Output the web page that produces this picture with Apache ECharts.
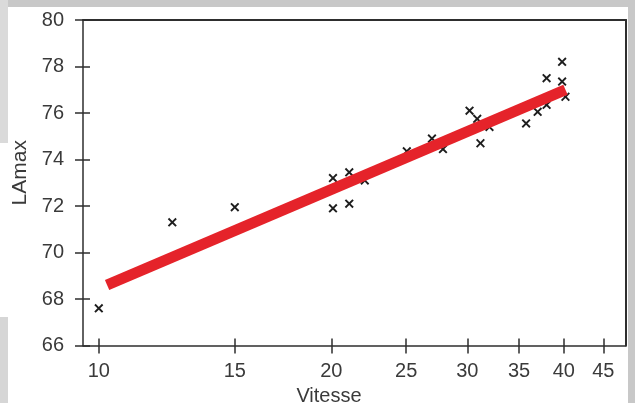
<!DOCTYPE html>
<html>
<head>
<meta charset="utf-8">
<script src="https://cdn.jsdelivr.net/npm/echarts@6/dist/echarts.min.js"></script>
<style>
html,body{margin:0;padding:0;background:#c8c8c8;}
#chart{width:635px;height:403px;}
</style>
</head>
<body>
<div id="chart"></div>
<script>
// Data
var vitesse = [10, 12.45, 15, 20.1, 21.1, 20.1, 21.1, 22.1, 25.05, 27, 27.9, 30.2, 30.9, 32.05, 31.2, 35.75, 37, 38, 38, 39.8, 39.8, 40.2];
var lamax   = [67.6, 71.3, 71.95, 73.2, 73.45, 71.9, 72.1, 73.1, 74.35, 74.9, 74.45, 76.1, 75.75, 75.4, 74.7, 75.55, 76.05, 76.35, 77.5, 78.2, 77.35, 76.7];
var fitVitesse = [10.25, 40.2];
var fitLamax   = [68.6, 77.0];
var xTicks = [10, 15, 20, 25, 30, 35, 40, 45];
var yTicks = [66, 68, 70, 72, 74, 76, 78, 80];

var points = vitesse.map(function (v, i) { return [v, lamax[i]]; });
var fitLine = fitVitesse.map(function (v, i) { return [v, fitLamax[i]]; });

var FONT = '"Liberation Sans", Arial, sans-serif';
var TXT = '#3a3a3a';
var AX = '#2e2e2e';
var X_MIN = 9.54, X_MAX = 48.15;

function frameX(pos) {
  return {type: 'log', logBase: 10, min: X_MIN, max: X_MAX, position: pos, gridIndex: 0,
    axisLine: {show: true, onZero: false, lineStyle: {color: AX, width: 2}},
    axisTick: {show: false}, axisLabel: {show: false}, splitLine: {show: false}};
}
function frameY(pos) {
  return {type: 'value', min: 66, max: 80, interval: 2, position: pos, gridIndex: 0,
    axisLine: {show: true, onZero: false, lineStyle: {color: AX, width: 2}},
    axisTick: {show: false}, axisLabel: {show: false}, splitLine: {show: false}};
}
var xTop = frameX('top');
var yRight = frameY('right');
var xInner = {type: 'log', logBase: 10, min: X_MIN, max: X_MAX, position: 'bottom', gridIndex: 0,
  axisLine: {show: false, onZero: false},
  axisTick: {show: true, inside: true, length: 7, customValues: xTicks, lineStyle: {color: AX, width: 1.5}},
  axisLabel: {show: false, customValues: xTicks}, splitLine: {show: false}};
var yInner = {type: 'value', min: 66, max: 80, interval: 2, position: 'left', gridIndex: 0,
  axisLine: {show: false, onZero: false},
  axisTick: {show: true, inside: true, length: 7, lineStyle: {color: AX, width: 1.5}},
  axisLabel: {show: false}, splitLine: {show: false}};

var chart = echarts.init(document.getElementById('chart'), null, {renderer: 'canvas'});
chart.setOption({
  backgroundColor: '#c8c8c8',
  animation: false,
  graphic: [
    {type: 'rect', z: -10, shape: {x: 8, y: 7, width: 620, height: 396}, style: {fill: '#ffffff'}},
    {type: 'rect', z: -10, shape: {x: 0, y: 0, width: 8, height: 143}, style: {fill: '#dadada'}},
    {type: 'rect', z: -10, shape: {x: 0, y: 143, width: 8, height: 174}, style: {fill: '#ffffff'}},
    {type: 'rect', z: -10, shape: {x: 0, y: 317, width: 8, height: 86}, style: {fill: '#d6d6d6'}}
  ],
  grid: {
    left: 83, right: 9, top: 20, bottom: 57.5, outerBoundsMode: 'none', containLabel: false,
    show: false
  },
  xAxis: [{
    type: 'log', logBase: 10, min: X_MIN, max: X_MAX, position: 'bottom',
    name: 'Vitesse', nameLocation: 'middle', nameGap: 41,
    nameTextStyle: {fontFamily: FONT, fontSize: 20, color: TXT, padding: [0, 51, 0, 0]},
    axisLine: {show: true, onZero: false, lineStyle: {color: AX, width: 1.5}},
    axisTick: {show: true, inside: false, length: 8, customValues: xTicks, lineStyle: {color: AX, width: 1.5}},
    axisLabel: {show: true, customValues: xTicks, margin: 16, fontFamily: FONT, fontSize: 20, color: TXT,
      formatter: function (v) { return String(Math.round(v)); }},
    splitLine: {show: false}, minorTick: {show: false}, minorSplitLine: {show: false}
  }, xTop, xInner],
  yAxis: [{
    type: 'value', min: 66, max: 80, interval: 2, position: 'left',
    name: 'LAmax', nameLocation: 'middle', nameGap: 47, nameRotate: 90,
    nameTextStyle: {fontFamily: FONT, fontSize: 21, color: TXT, padding: [0, 0, 0, 20]},
    axisLine: {show: true, onZero: false, lineStyle: {color: AX, width: 1.5}},
    axisTick: {show: true, inside: false, length: 8, lineStyle: {color: AX, width: 1.5}},
    axisLabel: {show: true, margin: 19, fontFamily: FONT, fontSize: 20, color: TXT,
      formatter: function (v) { return yTicks.indexOf(v) >= 0 ? String(v) : ''; }},
    splitLine: {show: false}
  }, yRight, yInner],
  series: [{
    type: 'scatter', xAxisIndex: 1, yAxisIndex: 1, data: [], silent: true
  }, {
    type: 'scatter', xAxisIndex: 2, yAxisIndex: 2, data: [], silent: true
  }, {
    type: 'scatter', xAxisIndex: 0, yAxisIndex: 0, data: points, z: 2,
    symbol: 'path://M0,1.5L1.5,0L5,3.5L8.5,0L10,1.5L6.5,5L10,8.5L8.5,10L5,6.5L1.5,10L0,8.5L3.5,5Z',
    symbolSize: 9,
    itemStyle: {color: '#1e1e1e', opacity: 1},
    emphasis: {disabled: true}
  }, {
    type: 'line', xAxisIndex: 0, yAxisIndex: 0, data: fitLine, z: 5,
    showSymbol: false, symbol: 'none',
    lineStyle: {color: '#e5232a', width: 11, cap: 'butt'},
    emphasis: {disabled: true}
  }]
});
</script>
</body>
</html>
